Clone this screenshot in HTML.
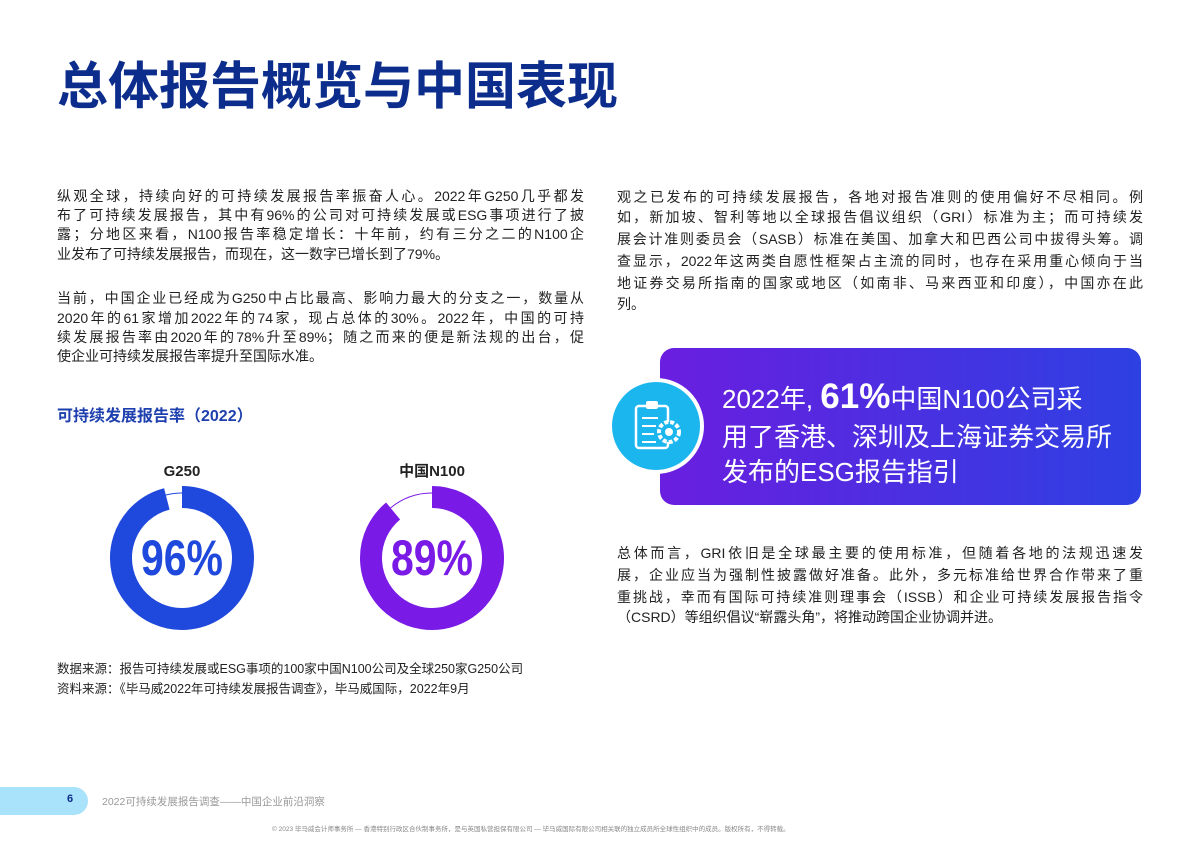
<!DOCTYPE html>
<html><head><meta charset="utf-8"><style>
body{margin:0;width:1200px;height:849px;background:#fff;position:relative;overflow:hidden;font-family:"Liberation Sans","Noto Sans CJK SC",sans-serif;color:#222}
.abs{position:absolute}
.ln{position:absolute;white-space:nowrap;font-size:14px;text-align:justify;text-align-last:justify;height:20px;line-height:20px}
.title{left:57px;top:56px;font-size:51px;font-weight:bold;color:#0c2d8c;line-height:62px;white-space:nowrap}
.call{position:absolute;left:660px;top:348px;width:481px;height:157px;border-radius:14px;background:linear-gradient(90deg,#6a1ee0,#2d40e2)}
.ct{position:absolute;color:#fff;font-size:26px;white-space:nowrap;line-height:34px;left:722px}
</style></head><body>
<div class="abs title">总体报告概览与中国表现</div>

<div>
<div class="ln" style="left:57px;top:186px;width:527px">纵观全球，持续向好的可持续发展报告率振奋人心。2022年G250几乎都发</div>
<div class="ln" style="left:57px;top:205px;width:527px">布了可持续发展报告，其中有96%的公司对可持续发展或ESG事项进行了披</div>
<div class="ln" style="left:57px;top:224px;width:527px">露；分地区来看，N100报告率稳定增长：十年前，约有三分之二的N100企</div>
<div class="ln" style="left:57px;top:244px;text-align-last:auto">业发布了可持续发展报告，而现在，这一数字已增长到了79%。</div>
</div>
<div>
<div class="ln" style="left:57px;top:288px;width:527px">当前，中国企业已经成为G250中占比最高、影响力最大的分支之一，数量从</div>
<div class="ln" style="left:57px;top:308px;width:527px">2020年的61家增加2022年的74家，现占总体的30%。2022年，中国的可持</div>
<div class="ln" style="left:57px;top:327px;width:527px">续发展报告率由2020年的78%升至89%；随之而来的便是新法规的出台，促</div>
<div class="ln" style="left:57px;top:346px;text-align-last:auto">使企业可持续发展报告率提升至国际水准。</div>
</div>

<div class="abs" style="left:57px;top:402px;font-size:16px;font-weight:bold;color:#1e3fae;white-space:nowrap">可持续发展报告率（2022）</div>

<svg class="abs" style="left:0;top:440px" width="600" height="220" id="donuts"></svg>

<div class="abs" style="left:57px;top:659px;font-size:12.5px;white-space:nowrap;line-height:20px">数据来源：报告可持续发展或ESG事项的100家中国N100公司及全球250家G250公司<br>资料来源：《毕马威2022年可持续发展报告调查》，毕马威国际，2022年9月</div>

<div>
<div class="ln" style="left:617px;top:187px;width:526px">观之已发布的可持续发展报告，各地对报告准则的使用偏好不尽相同。例</div>
<div class="ln" style="left:617px;top:207px;width:526px">如，新加坡、智利等地以全球报告倡议组织（GRI）标准为主；而可持续发</div>
<div class="ln" style="left:617px;top:229px;width:526px">展会计准则委员会（SASB）标准在美国、加拿大和巴西公司中拔得头筹。调</div>
<div class="ln" style="left:617px;top:251px;width:526px">查显示，2022年这两类自愿性框架占主流的同时，也存在采用重心倾向于当</div>
<div class="ln" style="left:617px;top:273px;width:526px">地证券交易所指南的国家或地区（如南非、马来西亚和印度），中国亦在此</div>
<div class="ln" style="left:617px;top:294px;text-align-last:auto">列。</div>
</div>

<div class="call"></div>
<div class="ct" style="top:380px">2022年, <b style="font-size:35px">61%</b>中国N100公司采</div>
<div class="ct" style="top:420px">用了香港、深圳及上海证券交易所</div>
<div class="ct" style="top:455px">发布的ESG报告指引</div>
<svg class="abs" style="left:606px;top:376px" width="100" height="100">
<circle cx="50" cy="50" r="46" fill="#1bb6ee" stroke="#fff" stroke-width="4"/>
<rect x="30" y="30" width="32" height="42" rx="3" fill="none" stroke="#fff" stroke-width="2.5"/>
<rect x="40" y="25" width="12" height="8" rx="2" fill="#fff"/>
<g stroke="#fff" stroke-width="2"><line x1="36" y1="42" x2="52" y2="42"/><line x1="36" y1="50" x2="50" y2="50"/><line x1="36" y1="58" x2="48" y2="58"/><line x1="36" y1="66" x2="50" y2="66"/></g>
<circle cx="63" cy="56" r="10" fill="#1bb6ee" stroke="#fff" stroke-width="4" stroke-dasharray="4 2"/>
<circle cx="63" cy="56" r="4" fill="#fff"/>
</svg>

<div>
<div class="ln" style="left:617px;top:543px;width:526px">总体而言，GRI依旧是全球最主要的使用标准，但随着各地的法规迅速发</div>
<div class="ln" style="left:617px;top:565px;width:526px">展，企业应当为强制性披露做好准备。此外，多元标准给世界合作带来了重</div>
<div class="ln" style="left:617px;top:587px;width:526px">重挑战，幸而有国际可持续准则理事会（ISSB）和企业可持续发展报告指令</div>
<div class="ln" style="left:617px;top:607px;text-align-last:auto">（CSRD）等组织倡议“崭露头角”，将推动跨国企业协调并进。</div>
</div>

<div class="abs" style="left:0;top:787px;width:88px;height:28px;background:#a9e2fb;border-radius:0 14px 14px 0"></div>
<div class="abs" style="left:67px;top:793px;font-size:11px;font-weight:bold;color:#0c2d8c">6</div>
<div class="abs" style="left:102px;top:794px;font-size:10.5px;color:#999;white-space:nowrap">2022可持续发展报告调查——中国企业前沿洞察</div>
<div class="abs" style="left:272px;top:823px;font-size:6.5px;color:#888;white-space:nowrap">© 2023 毕马威会计师事务所 — 香港特别行政区合伙制事务所，是与英国私营担保有限公司 — 毕马威国际有限公司相关联的独立成员所全球性组织中的成员。版权所有，不得转载。</div>

<script>
const labels=["G250","中国N100"];
const values=[96,89];
const colors=["#1f48dc","#7a1ae6"];
const svg=document.getElementById('donuts');
const NS="http://www.w3.org/2000/svg";
const cxs=[182,432], cy=118, R=61, W=22;
function pt(a,r,cx){const t=(a/100)*2*Math.PI;return [cx+r*Math.sin(t),cy-r*Math.cos(t)];}
values.forEach((v,i)=>{
  const cx=cxs[i];
  const [x1,y1]=pt(0,R,cx),[x2,y2]=pt(v,R,cx);
  const large=v>50?1:0;
  const p=document.createElementNS(NS,'path');
  p.setAttribute('d',`M${x1},${y1} A${R},${R} 0 ${large} 1 ${x2},${y2}`);
  p.setAttribute('fill','none');p.setAttribute('stroke',colors[i]);p.setAttribute('stroke-width',W);
  
  
  svg.appendChild(p);
  const g=document.createElementNS(NS,'path');
  const [x3,y3]=pt(v,R+4,cx),[x4,y4]=pt(100,R+4,cx);
  g.setAttribute('d',`M${x3},${y3} A${R+4},${R+4} 0 0 1 ${x4},${y4}`);
  g.setAttribute('fill','none');g.setAttribute('stroke',colors[i]);g.setAttribute('stroke-width',1);
  
  
  svg.appendChild(g);
  const t=document.createElementNS(NS,'text');
  t.setAttribute('x',cx);t.setAttribute('y',cy+17);t.setAttribute('text-anchor','middle');
  t.setAttribute('font-size','50');t.setAttribute('fill',colors[i]);t.setAttribute('font-weight','bold');
  t.setAttribute('font-family','Liberation Sans Narrow, Liberation Sans, sans-serif');
  t.setAttribute('transform',`translate(${cx} 0) scale(0.82 1) translate(${-cx} 0)`);
  t.textContent=v+'%';
  
  
  svg.appendChild(t);
  const l=document.createElementNS(NS,'text');
  l.setAttribute('x',cx);l.setAttribute('y',36);l.setAttribute('text-anchor','middle');
  l.setAttribute('font-size','15');l.setAttribute('font-weight','bold');l.setAttribute('fill','#222');
  l.setAttribute('font-family','Liberation Sans, Noto Sans CJK SC, sans-serif');
  l.textContent=labels[i];
  
  
  svg.appendChild(l);
});
</script>
</body></html>
